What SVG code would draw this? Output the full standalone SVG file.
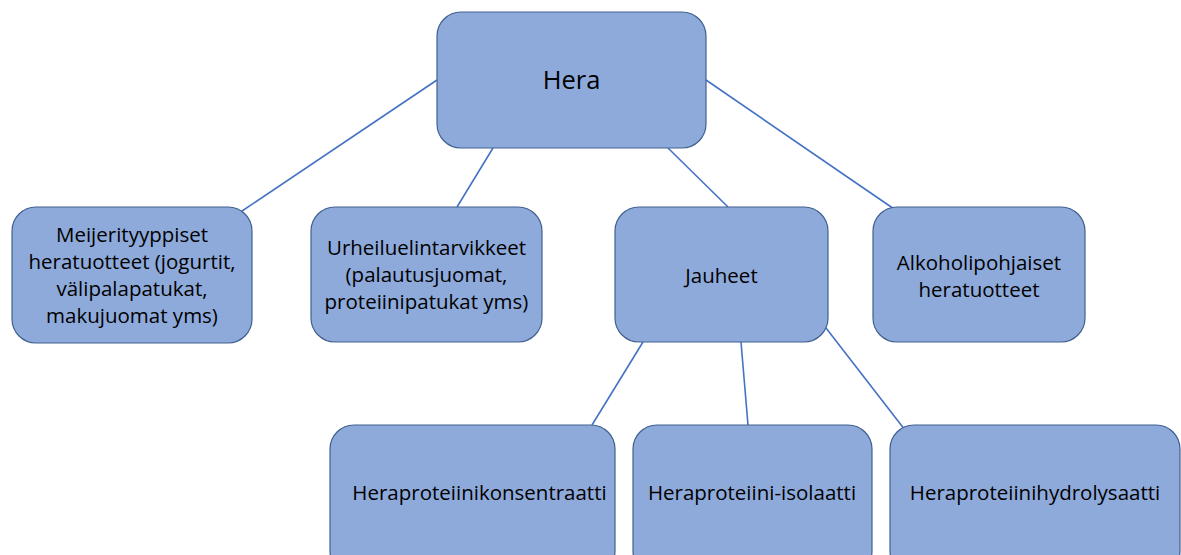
<svg xmlns="http://www.w3.org/2000/svg" width="1181" height="555" viewBox="0 0 1181 555">
<style>
.box{fill:#8EAADB;stroke:#41608F;stroke-width:1.2}
.t{font-family:"Open Sans","Liberation Sans",Arial,sans-serif;font-size:20.5px;fill:#000;text-anchor:middle}
.big{font-size:25.5px}
.c line{stroke:#4472C4;stroke-width:1.6}
</style>
<rect width="1181" height="555" fill="#fff"/>
<g class="c" id="connectors">
<line x1="437" y1="80" x2="242" y2="211"/>
<line x1="493" y1="148" x2="457" y2="207"/>
<line x1="668" y1="148" x2="728" y2="207"/>
<line x1="706" y1="80" x2="897" y2="211"/>
<line x1="643" y1="342" x2="592" y2="425"/>
<line x1="741" y1="342" x2="748" y2="425"/>
<line x1="826" y1="328" x2="905" y2="430"/>
</g>
<g id="hera"><rect class="box" x="437" y="12" width="269" height="136" rx="24"/><text class="t big" x="571.5" y="89">Hera</text></g>
<g id="meijeri"><rect class="box" x="12" y="207" width="240" height="136" rx="24"/>
<text class="t" x="132" y="242">Meijerityyppiset</text><text class="t" x="132" y="269">heratuotteet (jogurtit,</text><text class="t" x="132" y="296">välipalapatukat,</text><text class="t" x="132" y="323">makujuomat yms)</text></g>
<g id="urheilu"><rect class="box" x="311" y="207" width="231" height="135" rx="24"/>
<text class="t" x="426.5" y="255">Urheiluelintarvikkeet</text><text class="t" x="426.5" y="282">(palautusjuomat,</text><text class="t" x="426.5" y="309">proteiinipatukat yms)</text></g>
<g id="jauheet"><rect class="box" x="615" y="207" width="213" height="135" rx="24"/><text class="t" x="721.5" y="283">Jauheet</text></g>
<g id="alkoholi"><rect class="box" x="873" y="207" width="212" height="135" rx="24"/>
<text class="t" x="979" y="270">Alkoholipohjaiset</text><text class="t" x="979" y="297">heratuotteet</text></g>
<g id="konsentraatti"><rect class="box" x="330" y="425" width="285" height="150" rx="24"/><text class="t" x="479.5" y="500">Heraproteiinikonsentraatti</text></g>
<g id="isolaatti"><rect class="box" x="633" y="425" width="239" height="150" rx="24"/><text class="t" x="752" y="500">Heraproteiini-isolaatti</text></g>
<g id="hydrolysaatti"><rect class="box" x="890" y="425" width="290" height="150" rx="24"/><text class="t" x="1035" y="500">Heraproteiinihydrolysaatti</text></g>
</svg>
